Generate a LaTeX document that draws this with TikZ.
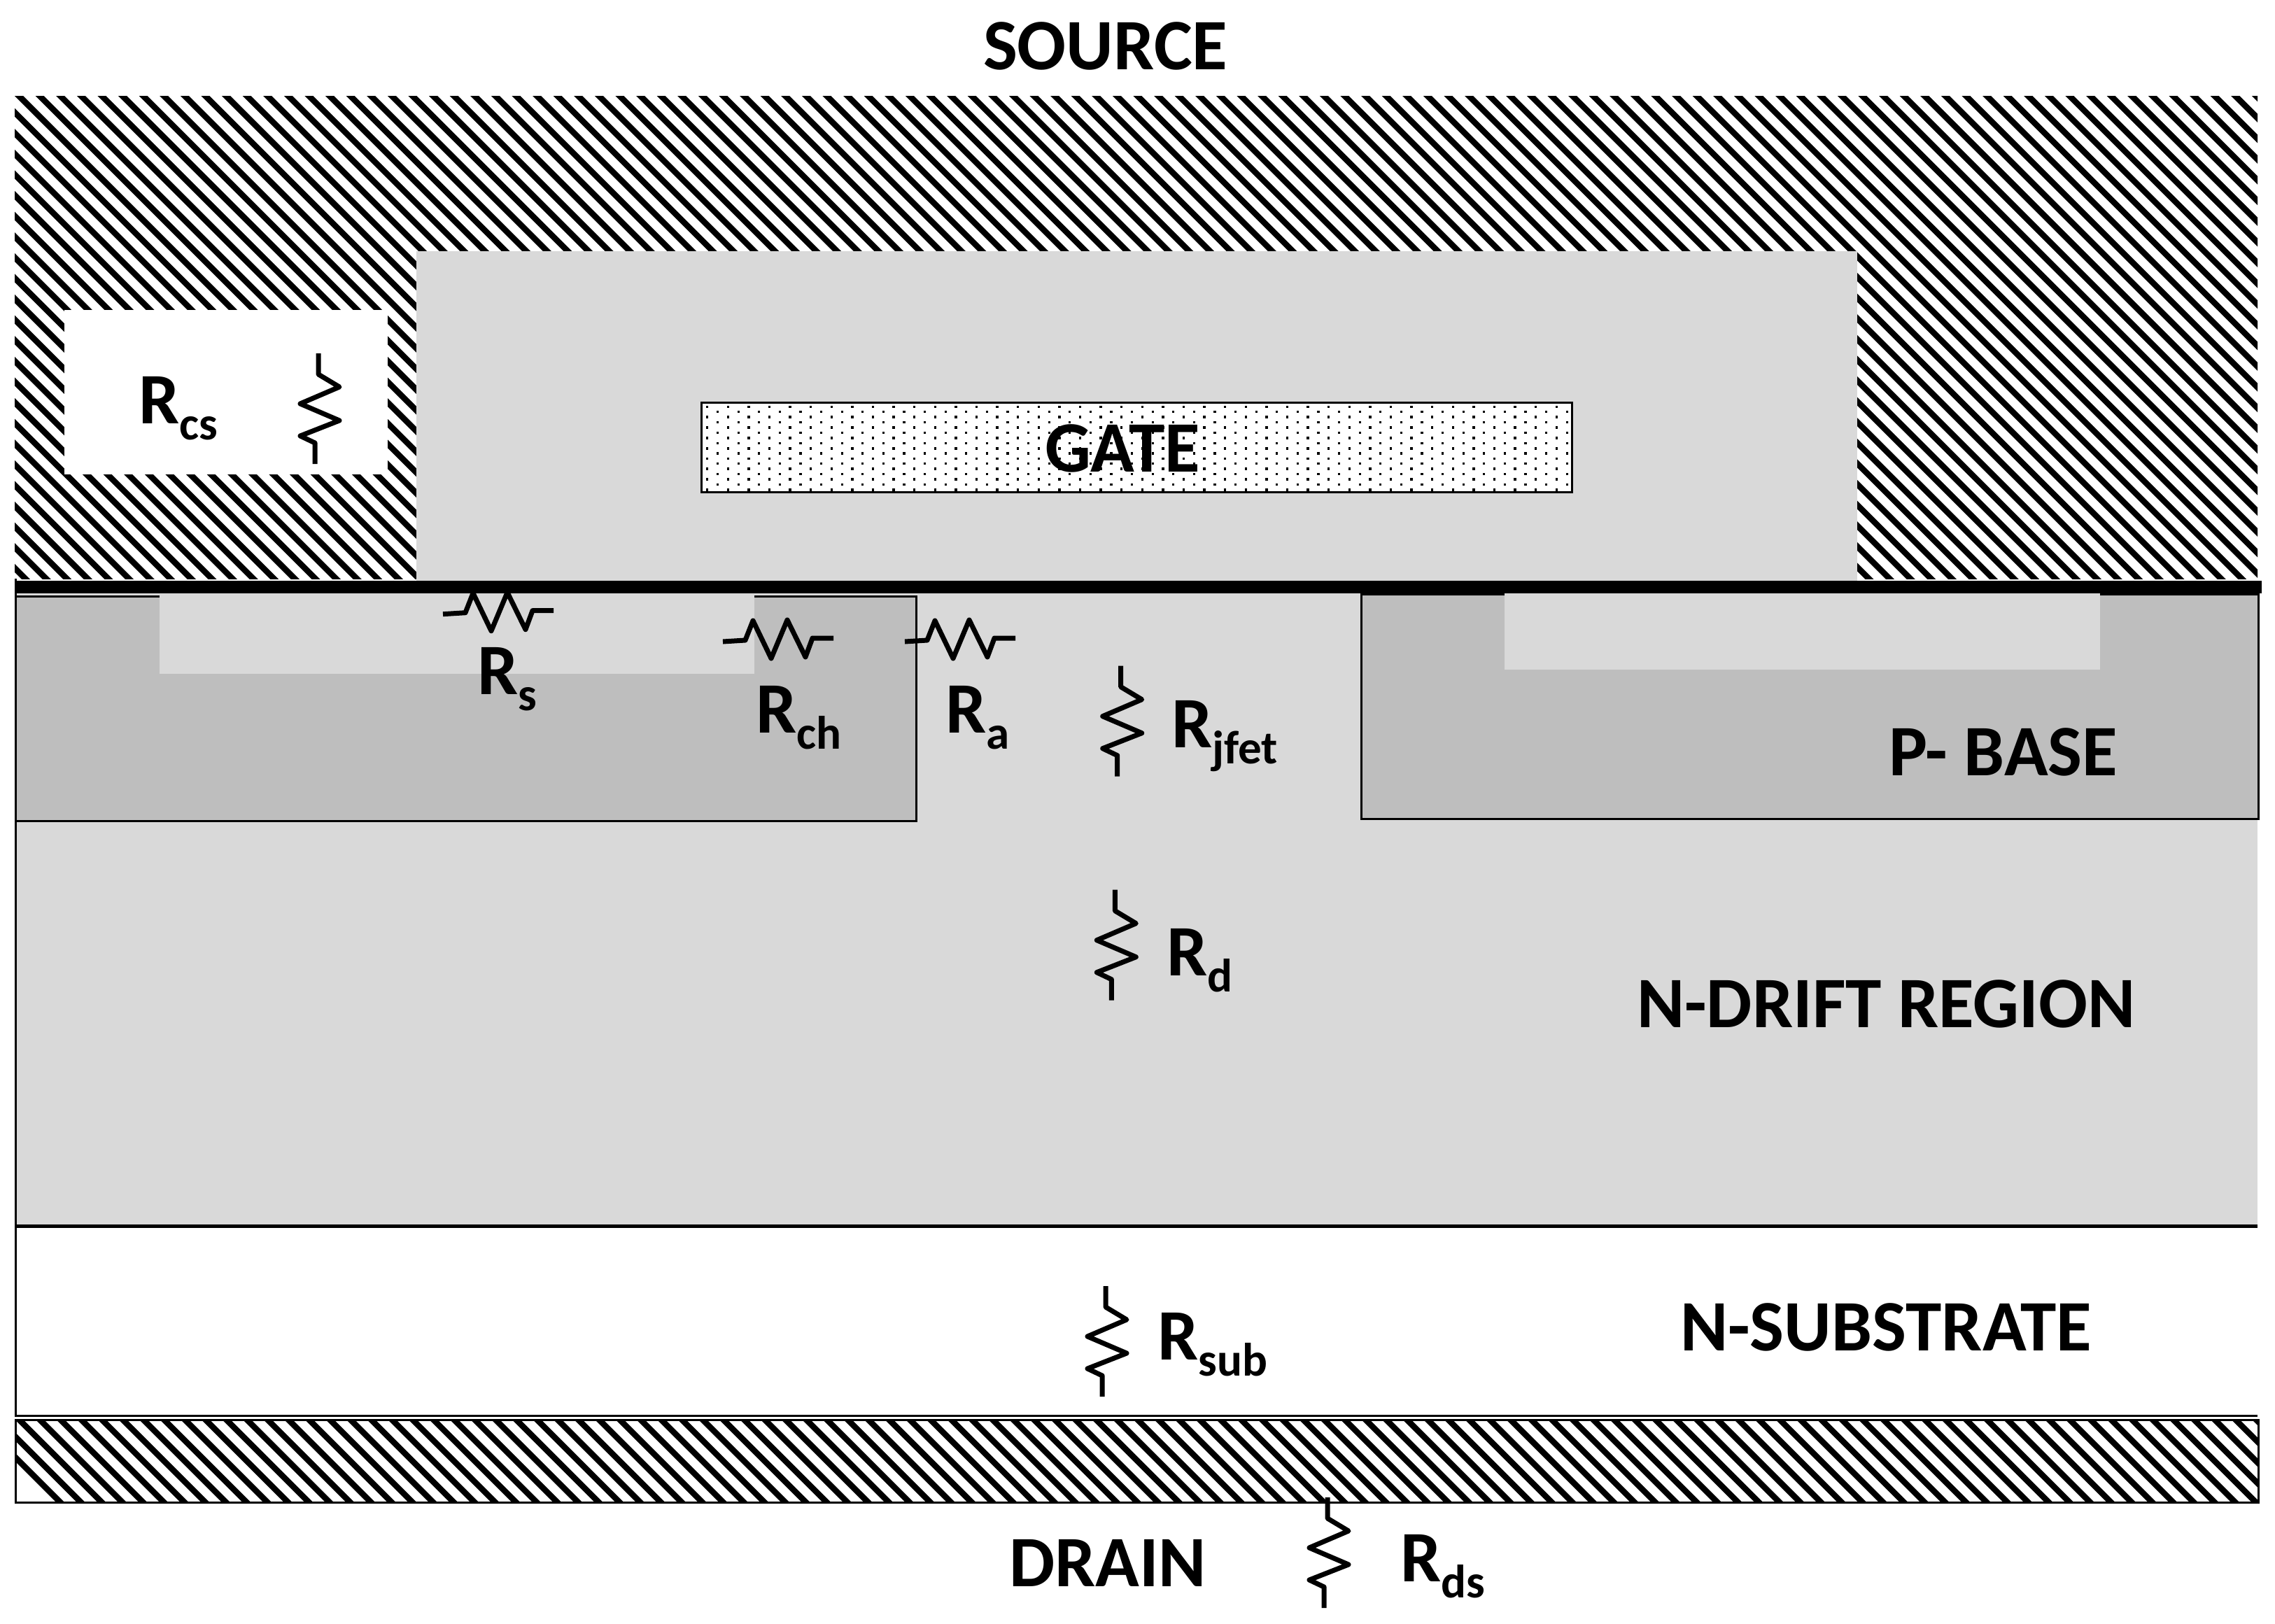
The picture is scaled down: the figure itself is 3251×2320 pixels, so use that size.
\documentclass[tikz,border=0pt]{standalone}
\usepackage{fontspec}
\setmainfont{Carlito}[BoldFont={Carlito Bold}]
\definecolor{oxide}{HTML}{D9D9D9}
\definecolor{pbase}{HTML}{BEBEBE}
\newcommand{\labfont}{\fontsize{103.5}{104}\selectfont\bfseries}
\newcommand{\subfont}{\fontsize{67}{67}\selectfont\bfseries}
\newcommand{\Rlab}[1]{R\raisebox{-23pt}{\subfont #1}}
\tikzset{
  res/.style={line width=7pt,line join=round,black},
  vres/.pic={\draw[res] (0,0)--(0,30)--(30,48)--(-26,72)--(30,96)--(-26,118)--(-5,128)--(-5,158);},
  hres/.pic={\draw[res] (0,0)--(32,-2)--(43,-30)--(69,24)--(92,-31)--(118,22)--(128,-5)--(158,-5);},
  stripe/.style={line width=8.5pt,black},
  edge/.style={line width=3pt,black},
  lab/.style={anchor=base west,inner sep=0pt,outer sep=0pt,font=\labfont}
}
\begin{document}
\begin{tikzpicture}[x=1pt,y=-1pt]
\useasboundingbox (0,0) rectangle (3251,2320);
\fill[white] (0,0) rectangle (3251,2320);
% source metal hatch
\begin{scope}
\clip (21,138) rectangle (3226,827);
\foreach \k in {-24,...,108}
  \draw[stripe,shift={(29.6*\k,0)}] (-110+130,130) -- (-110+835,835);
\end{scope}
% oxide
\fill[oxide] (595,359) rectangle (2654,830);
% Rcs window
\fill[white] (91.5,443) rectangle (553.6,678);
% gate
\begin{scope}
\clip (1001,574) rectangle (2248,705);
\fill[white] (1001,574) rectangle (2248,705);
\foreach \i in {0,...,42} \foreach \j in {0,...,8} {
  \fill[black,shift={(29.6*\i,14.8*\j)}] (1009,579.5) rectangle ++(3.4,3.8);
  \fill[black,shift={(29.6*\i,14.8*\j)}] (1024,587.2) rectangle ++(3.2,3.2);
}
\end{scope}
\draw[edge] (1002.5,575.5) rectangle (2246.5,703.5);
% drift region
\fill[oxide] (21,847) rectangle (3226,1752);
% p-base wells
\draw[edge,fill=pbase] (22.5,852) rectangle (1309,1173.5);
\draw[edge,fill=pbase] (1945.5,849) rectangle (3227,1170.5);
% n+ source wells
\fill[oxide] (228,847) rectangle (1077.5,963);
\fill[oxide] (2150,847) rectangle (3001,957);
% black bar
\fill[black] (21,830) rectangle (3232,847.5);
% boundaries
\draw[line width=5pt] (21,1752) -- (3226,1752);
\draw[edge] (21,2023) -- (3226,2023);
\draw[edge] (22.5,827) -- (22.5,2023);
% drain metal
\begin{scope}
\clip (21,2028) rectangle (3228,2148);
\foreach \k in {-2,...,112}
  \draw[stripe,shift={(29.6*\k,0)}] (-2001.7+2020,2020) -- (-2001.7+2155,2155);
\end{scope}
\draw[edge] (22.5,2029) rectangle (3227,2147);
% resistors
\pic at (455,505) {vres};
\pic at (1601.7,951.7) {vres};
\pic at (1593.3,1271.7) {vres};
\pic at (1580,1838) {vres};
\pic at (1897,2140) {vres};
\pic at (633,877.7) {hres};
\pic at (1033,917) {hres};
\pic at (1293,917) {hres};
% labels
\node[lab] (source) at (1405,100) {SOURCE};
\node[lab] (gate) at (1493,674) {GATE};
\node[lab] (pb) at (2699,1108) {P- BASE};
\node[lab] (drift) at (2339,1468) {N-DRIFT REGION};
\node[lab] (subs) at (2401,1930) {N-SUBSTRATE};
\node[lab] (drain) at (1442,2267) {DRAIN};
\node[lab] (rcs) at (198,605) {\Rlab{cs}};
\node[lab] (rs) at (682,992) {\Rlab{s}};
\node[lab] (rch) at (1080,1047.7) {\Rlab{ch}};
\node[lab] (ra) at (1351,1047.7) {\Rlab{a}};
\node[lab] (rjfet) at (1674,1068.7) {\Rlab{jfet}};
\node[lab] (rd) at (1667,1394) {\Rlab{d}};
\node[lab] (rsub) at (1654,1943) {\Rlab{sub}};
\node[lab] (rds) at (2001,2260) {\Rlab{ds}};
\end{tikzpicture}
\end{document}
